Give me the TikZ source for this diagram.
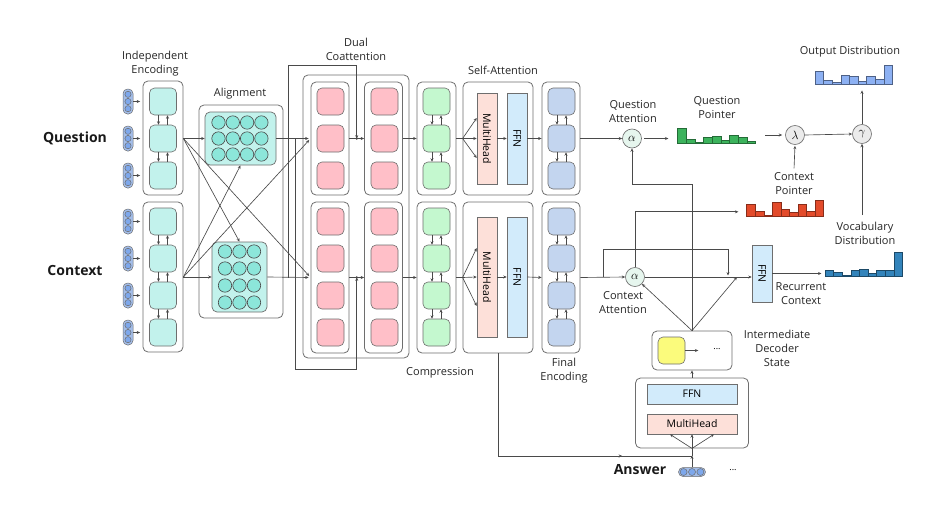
\documentclass[tikz,border=0pt]{standalone}
\usepackage{fontspec}
\usepackage{graphicx}
\setmainfont{Open Sans}
\usetikzlibrary{arrows.meta,calc}
\definecolor{ln}{HTML}{4a4a4a}
\definecolor{bx}{HTML}{6e6e6e}
\definecolor{pillout}{HTML}{a3bde9}
\definecolor{pillin}{HTML}{7ea8ec}
\definecolor{cyanc}{HTML}{c2f2ec}
\definecolor{tealc}{HTML}{8ce6da}
\definecolor{pinkc}{HTML}{ffbfc8}
\definecolor{greenc}{HTML}{c4f8cf}
\definecolor{mhcol}{HTML}{fde0d9}
\definecolor{ffncol}{HTML}{d2ebfb}
\definecolor{bluec}{HTML}{c3d5ef}
\definecolor{alphac}{HTML}{e6f6ee}
\definecolor{greyc}{HTML}{ebebeb}
\definecolor{yelc}{HTML}{fbfb7c}
\definecolor{qbar}{HTML}{3cb35c}
\definecolor{cbar}{HTML}{e34b2b}
\definecolor{vbar}{HTML}{3384bb}
\definecolor{obar}{HTML}{8db1f3}
\newcommand\cellarr[2]{%
  \draw[arr] ([xshift=-4.5pt]#1.south) -- ([xshift=-4.5pt]#2.north);
  \draw[arr] ([xshift=4.5pt]#2.north) -- ([xshift=4.5pt]#1.south);}
\newcommand\histog[6]{%
  \foreach \h [count=\i from 0] in {#6}{%
    \draw[draw=#5, fill=#4, line width=0.6pt] ({#1+\i*#3},#2) rectangle ({#1+(\i+1)*#3},{#2-\h});}}
\begin{document}
\begin{tikzpicture}[x=1pt,y=-1pt, line width=0.65pt,
  arr/.style={draw=ln, -{Stealth[length=3.4pt,width=3pt]}},
  obox/.style={draw=bx, rounded corners=5pt, fill=white, line width=0.8pt, inner sep=0pt},
  cell/.style={draw=bx, rounded corners=5pt, minimum width=27pt, minimum height=27pt, inner sep=0pt, line width=0.6pt},
  pill/.style={draw=bx, fill=pillout, rounded corners=4.5pt, minimum width=10pt, minimum height=25pt, inner sep=0pt, line width=0.5pt},
  gridbox/.style={draw=bx, fill=cyanc, rounded corners=5pt, inner sep=0pt, line width=0.7pt},
  gdot/.style={draw=ln, fill=tealc, line width=0.6pt},
  opc/.style={circle, draw=bx, minimum size=19pt, inner sep=0pt, font=\fontsize{12}{12}\selectfont},
  lbl/.style={align=center, font=\fontsize{11}{14}\selectfont, text=black!85},
  big/.style={font=\fontsize{14}{16}\selectfont\bfseries, text=black!90},
  flat/.style={draw=bx, inner sep=0pt, line width=0.6pt, font=\fontsize{10.5}{12}\selectfont},
  ghost/.style={inner sep=0pt}]
\useasboundingbox (0,0) rectangle (946,504);

% ---------- labels ----------
\node[big] (lq) at (75,138) {Question};
\node[big] (lc) at (75,270) {Context};
\node[big] (la) at (640,470) {Answer};
\node[lbl] (lie) at (155,64) {Independent\\Encoding};
\node[lbl] (lal) at (240,94) {Alignment};
\node[lbl] (ldc) at (356,49) {Dual\\Coattention};
\node[lbl] (lsa) at (503,70) {Self-Attention};
\node[lbl] (lcm) at (440,373) {Compression};
\node[lbl] (lfe) at (564,371) {Final\\Encoding};
\node[lbl] (lqa) at (633,112) {Question\\Attention};
\node[lbl] (lqp) at (717,108) {Question\\Pointer};
\node[lbl] (lod) at (850,52) {Output Distribution};
\node[lbl] (lcp) at (794,184) {Context\\Pointer};
\node[lbl] (lvd) at (865,233) {Vocabulary\\Distribution};
\node[lbl] (lca) at (623,303) {Context\\Attention};
\node[lbl] (lrc) at (801,294) {Recurrent\\Context};
\node[lbl] (lid) at (777,348) {Intermediate\\Decoder\\State};

% ---------- outer boxes ----------
\node[obox, minimum width=40pt, minimum height=114pt] (qenc) at (163,138) {};
\node[obox, minimum width=40pt, minimum height=150pt] (cenc) at (163,277) {};
\node[obox, minimum width=84pt, minimum height=213pt] (align) at (241,211.5) {};
\node[obox, minimum width=106pt, minimum height=283pt] (dual) at (356,216.5) {};
\node[obox, minimum width=38pt, minimum height=113pt] (dq1) at (330,138.5) {};
\node[obox, minimum width=38pt, minimum height=113pt] (dq2) at (383.5,138.5) {};
\node[obox, minimum width=38pt, minimum height=151pt] (dc1) at (330,277.5) {};
\node[obox, minimum width=38pt, minimum height=151pt] (dc2) at (383.5,277.5) {};
\node[obox, minimum width=39pt, minimum height=113pt] (cq) at (436.5,138.5) {};
\node[obox, minimum width=39pt, minimum height=151pt] (cc) at (436.5,277.5) {};
\node[obox, minimum width=70pt, minimum height=113pt] (sq) at (498,138.5) {};
\node[obox, minimum width=70pt, minimum height=151pt] (sc) at (498,277.5) {};
\node[obox, minimum width=38pt, minimum height=113pt] (eq) at (561,138.5) {};
\node[obox, minimum width=38pt, minimum height=151pt] (ec) at (561,277.5) {};

% ---------- question cells ----------
\foreach \i/\y in {1/101.5,2/138.5,3/175.5}{
  \node[pill] (qin\i) at (128,\y) {};
  \foreach \d in {-7.2,0,7.2} \draw[draw=bx, fill=pillin, line width=0.5pt] (128,{\y+(\d)}) circle (3.1pt);
  \draw[arr, shorten >=2.5pt] (qin\i.east) -- (qin\i.east -| qenc.west);
  \node[cell, fill=cyanc] (qe\i) at (163,\y) {};
  \node[cell, fill=pinkc] (pqa\i) at (330.5,\y) {};
  \node[cell, fill=pinkc] (pqb\i) at (384.5,\y) {};
  \node[cell, fill=greenc] (gq\i) at (436.5,\y) {};
  \node[cell, fill=bluec] (bq\i) at (561.5,\y) {};
}
% ---------- context cells ----------
\foreach \i/\y in {1/221.5,2/258.5,3/295.5,4/332.5}{
  \node[pill] (cin\i) at (128,\y) {};
  \foreach \d in {-7.2,0,7.2} \draw[draw=bx, fill=pillin, line width=0.5pt] (128,{\y+(\d)}) circle (3.1pt);
  \draw[arr, shorten >=2.5pt] (cin\i.east) -- (cin\i.east -| cenc.west);
  \node[cell, fill=cyanc] (ce\i) at (163,\y) {};
  \node[cell, fill=pinkc] (pca\i) at (330.5,\y) {};
  \node[cell, fill=pinkc] (pcb\i) at (384.5,\y) {};
  \node[cell, fill=greenc] (gc\i) at (436.5,\y) {};
  \node[cell, fill=bluec] (bc\i) at (561.5,\y) {};
}
\cellarr{qe1}{qe2}\cellarr{qe2}{qe3}
\cellarr{ce1}{ce2}\cellarr{ce2}{ce3}\cellarr{ce3}{ce4}
\cellarr{gq1}{gq2}\cellarr{gq2}{gq3}
\cellarr{gc1}{gc2}\cellarr{gc2}{gc3}\cellarr{gc3}{gc4}
\cellarr{bq1}{bq2}\cellarr{bq2}{bq3}
\cellarr{bc1}{bc2}\cellarr{bc2}{bc3}\cellarr{bc3}{bc4}

% ---------- alignment grids ----------
\node[gridbox, minimum width=71pt, minimum height=53pt] (qgrid) at (240.5,138.5) {};
\node[gridbox, minimum width=55pt, minimum height=70pt] (cgrid) at (239.5,277) {};
\foreach \x in {218.5,232.8,247.1,261.4}
  \foreach \y in {122.5,138.5,154.5} \draw[gdot] (\x,\y) circle (6.7pt);
\foreach \x in {225,239.5,254}
  \foreach \y in {251.5,268.5,285.5,302.5} \draw[gdot] (\x,\y) circle (6.7pt);

% ---------- self-attention inner ----------
\node[flat, fill=mhcol, minimum width=20pt, minimum height=91pt] (mhq) at (487,138.5) {\rotatebox{-90}{MultiHead}};
\node[flat, fill=ffncol, minimum width=20pt, minimum height=91pt] (ffq) at (517,138.5) {\rotatebox{-90}{FFN}};
\node[flat, fill=mhcol, minimum width=20pt, minimum height=120pt] (mhc) at (487,277) {\rotatebox{-90}{MultiHead}};
\node[flat, fill=ffncol, minimum width=20pt, minimum height=120pt] (ffc) at (517,277) {\rotatebox{-90}{FFN}};

% ---------- connectors: encoding -> alignment -> coattention ----------
\coordinate (qo) at (qenc.east |- qe2.east);
\coordinate (co) at (cenc.east);
\draw[arr] (qo) -- (qgrid.west);
\draw[arr] (co) -- (cgrid.west);
\draw[arr] (qo) -- (cgrid.north);
\draw[arr] (co) -- (qgrid.south);
\draw[arr, shorten >=2pt] (qo) -- (dc1.west);
\draw[arr, shorten >=2pt] (co) -- (dq1.west);
\draw[arr, shorten >=2pt] (qgrid.east) -- (dq1.west);
\draw[arr, shorten >=2pt] (cgrid.east) -- (dc1.west);
\coordinate (jq) at ($(dq1.east)!0.5!(dq2.west)$);
\coordinate (jc) at ($(dc1.east)!0.5!(dc2.west)$);
\coordinate (b1) at (288,277.5);
\coordinate (b2) at (295,138.5);
\draw[arr] (b1) |- ($(jq)+(0,-73.5)$) -- (jq);
\draw[arr] (b2) |- ($(jc)+(0,91.5)$) -- (jc);
\fill[ln] (jq) circle (1.3pt);
\fill[ln] (jc) circle (1.3pt);
\draw[arr] (dq1.east) -- (dq2.west);
\draw[arr] (dc1.east) -- (dc2.west);
\draw[arr] (dq2.east) -- (cq.west);
\draw[arr] (dc2.east) -- (cc.west);

% ---------- compression -> self-attention -> final ----------
\coordinate (sqs) at (sq.west |- cq.east);
\coordinate (scs) at (sc.west |- cc.east);
\draw[ln] (cq.east) -- (sqs);
\draw[ln] (cc.east) -- (scs);
\foreach \d in {-20.5,0,19.5} \draw[arr] (sqs) -- ($(mhq.west)+(0,\d)$);
\foreach \d in {-29,0,29} \draw[arr] (scs) -- ($(mhc.west)+(0,\d)$);
\draw[arr] (mhq.east) -- (ffq.west);
\draw[arr] (mhc.east) -- (ffc.west);
\draw[arr] (ffq.east) -- (eq.west);
\draw[arr] (ffc.east) -- (ec.west);

% ---------- decoder side nodes ----------
\node[opc, fill=alphac] (aq) at (632,138.5) {$\alpha$};
\node[opc, fill=alphac] (ac) at (635,277) {$\alpha$};
\node[opc, fill=greyc] (lam) at (795,135) {$\lambda$};
\node[opc, fill=greyc] (gam) at (862,134) {$\gamma$};
\node[flat, fill=ffncol, minimum width=20pt, minimum height=57pt] (fr) at (762,273.5) {\rotatebox{-90}{FFN}};

\node[ghost, minimum width=78pt, minimum height=16pt] (qp) at (716.7,135) {};
\node[ghost, minimum width=77pt, minimum height=17pt] (cp) at (785.2,208.3) {};
\node[ghost, minimum width=78pt, minimum height=19pt] (outd) at (853.8,74.6) {};
\node[ghost, minimum width=78pt, minimum height=24pt] (vp) at (863.8,264.5) {};
\histog{677.7}{143.3}{8.67}{qbar}{qbar!60!black}{15,4,1,5.7,7.3,3.3,8.3,5.7,1.7}
\histog{746.7}{216.7}{8.56}{cbar}{cbar!60!black}{12.7,5,1.7,14,7.3,4,12.3,5.7,16.7}
\histog{815}{84.3}{8.63}{obar}{obar!55!black}{12.7,3.7,1.7,9.3,7.7,2.7,7.7,5,19.3}
\histog{825}{276.7}{8.63}{vbar}{vbar!55!black}{6.7,4.3,1.7,6.7,7.7,3.3,6.7,6,24.3}

\node[obox, minimum width=80pt, minimum height=39pt] (ids) at (692,350.5) {};
\node[cell, fill=yelc] (yel) at (671.5,350.5) {};
\node[font=\fontsize{9}{9}\selectfont] (idd) at (717,349) {...};
\node[obox, minimum width=113pt, minimum height=70pt] (dec) at (692,413) {};
\node[flat, fill=ffncol, minimum width=90pt, minimum height=20pt] (dffn) at (692,394) {FFN};
\node[flat, fill=mhcol, minimum width=90pt, minimum height=20pt] (dmh) at (692,424) {MultiHead};
\node[draw=bx, fill=pillout, rounded corners=4.5pt, minimum width=27pt, minimum height=9pt, inner sep=0pt, line width=0.5pt] (ans) at (692,472) {};
\foreach \d in {-8.4,0,8.4} \draw[draw=bx, fill=pillin, line width=0.5pt] ($(ans)+(\d,0)$) circle (3.5pt);
\node[font=\fontsize{9}{9}\selectfont] (ansd) at (733,470) {...};

% ---------- decoder connectors ----------
\draw[arr] (eq.east) -- (aq.west);
\draw[arr] (ec.east) -- (ac.west);
\draw[arr, shorten >=9pt, shorten <=2pt] (aq.east) -- (aq.east -| qp.west);
\draw[arr, shorten <=9pt, shorten >=3pt] (qp.east) -- (lam.west);
\draw[arr] (lam.east) -- (gam.west);
\draw[arr, shorten >=6pt] (gam.north) -- (gam.north |- outd.south);
\draw[arr, shorten <=1pt, shorten >=1pt] (lcp.north) -- (lam.south);
\draw[arr, shorten <=3pt] (gam.south |- lvd.north) -- (gam.south);
\draw[arr, shorten >=3pt] (fr.east) -- (fr.east -| vp.west);

\coordinate (br) at (603,277);
\coordinate (jr) at (728,277);
\coordinate (jr2) at (737,277);
\draw[arr, shorten >=1.5pt] (br) |- ($(jr)+(0,-28)$) -- (jr);
\draw[arr] (ac.north) |- ($(cp.west)+(-8,3.5)$);
\draw[arr] (ac.east) -- (ac.east -| fr.west);
\path (ids.north) ++(0,-146) coordinate (tp);
\draw[arr] (ids.north) -- (tp) -| (aq.south);
\draw[arr] (ids.north) -- (ac.south east);
\draw[arr] (ids.north) -- (jr2);
\draw[arr] (yel.east) -- ++(13,0);
\draw[arr] (dec.north) -- (ids.south);
\coordinate (ja) at (692,456);
\draw[arr, shorten >=0.5pt] (ans.north) -- ($(ja)+(0,-1)$);
\draw[ln] (ja) -- (dec.south);
\draw[ln] (sc.south) |- (ja);
\draw[arr] (sc.south |- ja) -- ($(sc.south |- ja)!0.64!(ja)$);
\foreach \d in {-22,0,22} \draw[arr] (dec.south) -- ($(dmh.south)+(\d,0)$);
\end{tikzpicture}
\end{document}
